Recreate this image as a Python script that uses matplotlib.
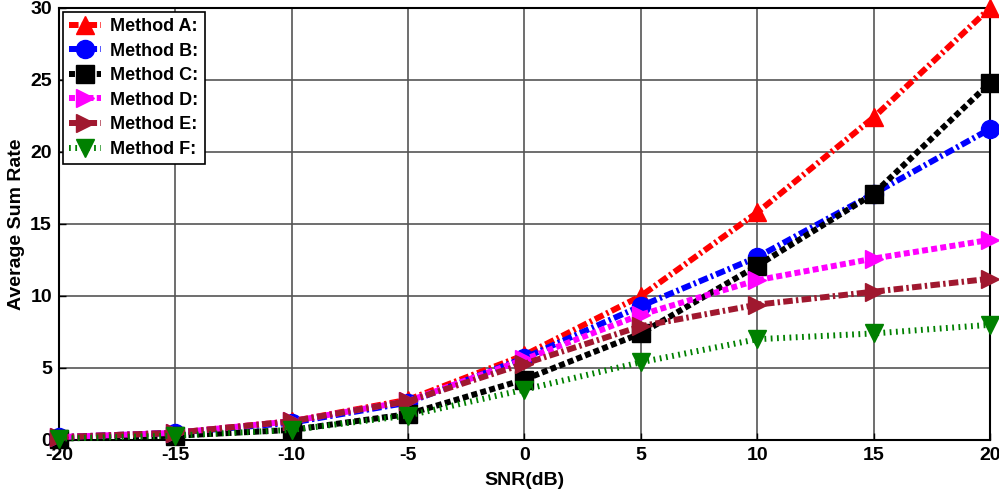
import matplotlib
matplotlib.use("Agg")
import matplotlib.pyplot as plt

snr = [-20, -15, -10, -5, 0, 5, 10, 15, 20]
method_a = [0.2, 0.5, 1.3, 2.8, 5.9, 10.0, 15.8, 22.4, 30.0]
method_b = [0.2, 0.5, 1.2, 2.6, 5.7, 9.3, 12.7, 17.1, 21.6]
method_c = [0.1, 0.3, 0.7, 1.8, 4.2, 7.4, 12.1, 17.1, 24.8]
method_d = [0.2, 0.5, 1.3, 2.7, 5.6, 8.7, 11.1, 12.6, 13.9]
method_e = [0.2, 0.5, 1.3, 2.7, 5.3, 7.9, 9.4, 10.3, 11.2]
method_f = [0.1, 0.3, 0.7, 1.7, 3.5, 5.4, 7.0, 7.4, 8.0]
labels = ["Method A:", "Method B:", "Method C:", "Method D:", "Method E:", "Method F:"]

plt.rcParams['font.family'] = ['Liberation Sans', 'DejaVu Sans']
plt.rcParams['font.weight'] = 'bold'
plt.rcParams['axes.unicode_minus'] = False

fig = plt.figure(figsize=(9.99, 5.0), dpi=100)
ax = fig.add_axes([0.059, 0.12, 0.932, 0.864])

dashdot = (0, (1.6, 0.55, 0.4, 0.55))
dashed = (0, (1.0, 0.55))
dotted = (0, (0.3, 0.75))
styles = [
    (method_a, 'red', dashdot, '^'),
    (method_b, 'blue', dashdot, 'o'),
    (method_c, 'black', dashed, 's'),
    (method_d, 'magenta', dashed, '>'),
    (method_e, '#A0182F', dashdot, '>'),
    (method_f, 'green', dotted, 'v'),
]
for (vals, col, ls, mk), lab in zip(styles, labels):
    ax.plot(snr, vals, color=col, linestyle=ls, linewidth=4.3, marker=mk,
            markersize=13, label=lab, clip_on=False, zorder=3)

ax.set_xlim(-20, 20)
ax.set_ylim(0, 30)
ax.set_xticks(snr)
ax.set_yticks([0, 5, 10, 15, 20, 25, 30])
ax.grid(True, color='#555555', linewidth=1.2, linestyle='-')
ax.tick_params(direction='in', labelsize=14, length=5, width=1, pad=5)
for s in ax.spines.values():
    s.set_linewidth(1.5)
ax.set_xlabel('SNR(dB)', fontsize=14, fontweight='bold', labelpad=6)
ax.set_ylabel('Average Sum Rate', fontsize=14, fontweight='bold', labelpad=4)

leg = ax.legend(loc='upper left', fontsize=13, frameon=True, fancybox=False,
                borderaxespad=0.2, handlelength=1.8, handletextpad=0.5,
                labelspacing=0.42, borderpad=0.35, markerscale=1.0)
leg.get_frame().set_edgecolor('black')
leg.get_frame().set_linewidth(1.2)
leg.get_frame().set_alpha(1)
for t in leg.get_texts():
    t.set_fontweight('bold')

fig.savefig('out.png', dpi=100)
